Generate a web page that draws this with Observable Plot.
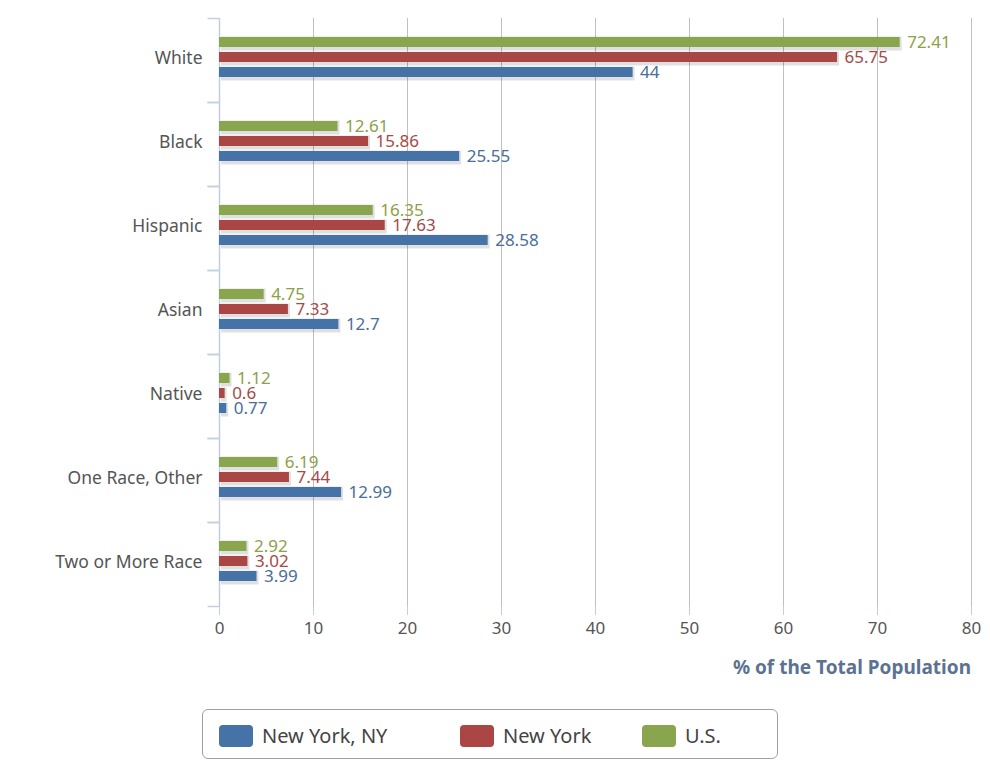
<!DOCTYPE html>
<html><head><meta charset="utf-8">
<script src="https://cdn.jsdelivr.net/npm/d3@7"></script>
<script src="https://cdn.jsdelivr.net/npm/@observablehq/plot@0.6"></script>
<style>
body{margin:0;background:#fff;font-family:"Noto Sans",sans-serif;}
#legend{position:absolute;left:202px;top:709px;width:574px;height:48px;border:1px solid #a0a0a0;border-radius:6px;box-sizing:content-box;}
.item{position:absolute;top:12px;display:flex;align-items:center;font-size:20px;color:#444;}
.sw{width:34px;height:22px;border-radius:4px;margin-right:9px;}
</style></head>
<body>
<div id="chart"></div>
<div id="legend"></div>
<script>
const categories = ["White","Black","Hispanic","Asian","Native","One Race, Other","Two or More Race"];
const seriesNames = ["New York, NY","New York","U.S."];
const nycValues = [44, 25.55, 28.58, 12.7, 0.77, 12.99, 3.99];
const nysValues = [65.75, 15.86, 17.63, 7.33, 0.6, 7.44, 3.02];
const usValues = [72.41, 12.61, 16.35, 4.75, 1.12, 6.19, 2.92];
const barColors = ["#4572a7","#aa4643","#89a54e"];
const labelColors = ["#4a6d99","#a64a47","#8ea048"];
const xTicks = [0,10,20,30,40,50,60,70,80];

const valueSets = [nycValues, nysValues, usValues];
const data = [];
categories.forEach((c, i) => {
  seriesNames.forEach((s, j) => data.push({cat: c, series: s, value: valueSets[j][i]}));
});

const hTick = {draw(ctx) { ctx.moveTo(-6, 0); ctx.lineTo(6, 0); }};

const chart = Plot.plot({
  width: 990,
  height: 700,
  marginLeft: 219,
  marginRight: 19,
  marginTop: 15,
  marginBottom: 92,
  style: {fontFamily: "Noto Sans, sans-serif", fontSize: "17px", color: "#555"},
  x: {domain: [0, 80]},
  y: {domain: ["U.S.","New York","New York, NY"], axis: null, paddingInner: 0.35, paddingOuter: 0, insetTop: 18, insetBottom: 25},
  fy: {domain: categories, padding: 0, label: null},
  color: {domain: seriesNames, range: barColors},
  marks: [
    Plot.ruleX(xTicks.filter(d => d > 0), {stroke: "#c0c0c0", strokeOpacity: 1}),
    Plot.ruleX([0], {stroke: "#c0d0e0", strokeWidth: 1.5}),
    Plot.dot([0], {frameAnchor: "top-left", symbol: hTick, stroke: "#c0d0e0", strokeWidth: 1.5, dx: -6}),
    Plot.dot([0], {frameAnchor: "bottom-left", symbol: hTick, stroke: "#c0d0e0", strokeWidth: 1.5, dx: -6}),
    Plot.barX(data, {x: "value", y: "series", fy: "cat", fill: "#000", fillOpacity: 0.12, dx: 2, dy: 1.5, insetTop: -2, insetBottom: -2}),
    Plot.barX(data, {x: "value", y: "series", fy: "cat", fill: "series"}),
    Plot.text(data, {x: "value", y: "series", fy: "cat", text: d => String(d.value), textAnchor: "start", dx: 7,
      fill: d => labelColors[seriesNames.indexOf(d.series)], fontSize: 17}),
    Plot.axisFy({anchor: "left", tickSize: 0, tickPadding: 17, fontSize: 17.5, dy: -2, label: null}),
    Plot.axisX({ticks: xTicks, tickSize: 9, tickPadding: 6, fontSize: 17, stroke: "#c0d0e0",
      label: "% of the Total Population", labelAnchor: "right", labelArrow: "none", labelOffset: 67})
  ]
});
document.getElementById("chart").appendChild(chart);

// style axis title and align its right edge with the plot's right edge
chart.querySelectorAll("text").forEach(t => {
  if (t.textContent.includes("% of the Total Population")) {
    t.setAttribute("font-weight", "bold");
    t.setAttribute("font-size", "19");
    t.setAttribute("fill", "#5b7292");
    const b = t.getBoundingClientRect();
    const shift = 971 - b.right;
    t.setAttribute("dx", shift);
  }
});

const legend = document.getElementById("legend");
const lx = [16, 257, 439];
seriesNames.forEach((s, i) => {
  const it = document.createElement("div");
  it.className = "item";
  it.style.left = lx[i] + "px";
  it.innerHTML = `<div class="sw" style="background:${barColors[i]}"></div><span>${s}</span>`;
  legend.appendChild(it);
});
</script>
</body></html>
